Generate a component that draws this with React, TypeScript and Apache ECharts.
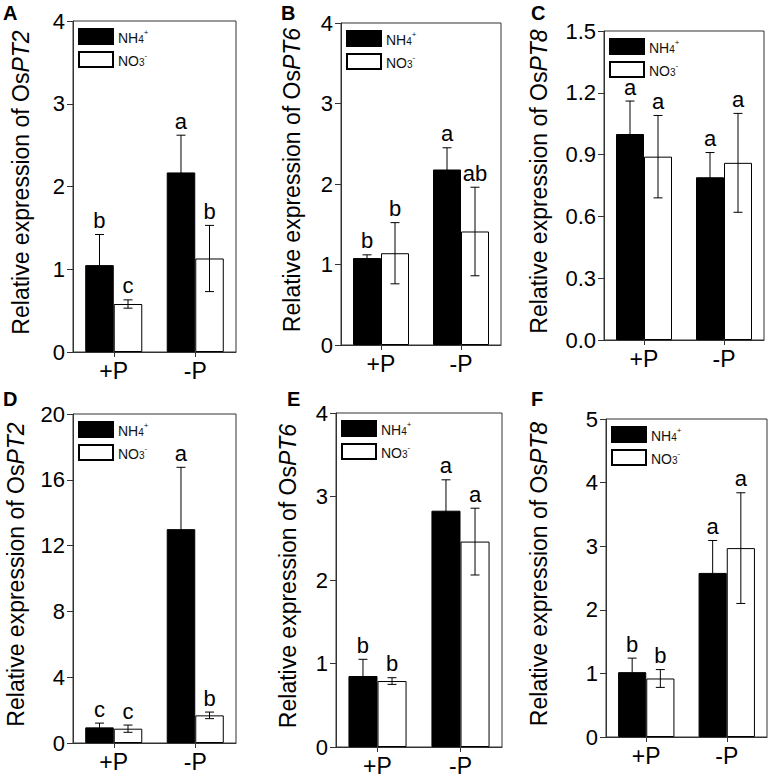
import React, { useEffect, useRef } from "react";
import * as echarts from "echarts";

const categories = ["+P", "-P"];
const panelIds = ["A", "B", "C", "D", "E", "F"];
const genes = ["PT2", "PT6", "PT8", "PT2", "PT6", "PT8"];
const yMax = [4, 4, 1.5, 20, 4, 5];
const yInterval = [1, 1, 0.3, 4, 1, 1];
const yDecimals = [0, 0, 1, 0, 0, 0];
const nh4Mean = [[1.05, 2.17], [1.08, 2.18], [1.0, 0.79], [0.95, 13.0], [0.85, 2.83], [1.02, 2.58]];
const nh4Err = [[0.37, 0.45], [0.04, 0.27], [0.16, 0.12], [0.26, 3.76], [0.2, 0.37], [0.22, 0.51]];
const no3Mean = [[0.58, 1.13], [1.14, 1.41], [0.89, 0.86], [0.87, 1.68], [0.79, 2.46], [0.92, 2.97]];
const no3Err = [[0.05, 0.4], [0.38, 0.55], [0.2, 0.24], [0.22, 0.2], [0.04, 0.4], [0.14, 0.87]];
const nh4Letters = [["b", "a"], ["b", "a"], ["a", "a"], ["c", "a"], ["b", "a"], ["b", "a"]];
const no3Letters = [["c", "b"], ["b", "ab"], ["a", "a"], ["c", "b"], ["b", "a"], ["b", "a"]];
const seriesNames = ["NH4+", "NO3-"];

// layout (pixels)
const gridBoxes = [
  { left: 73, top: 21, width: 163, height: 331 },
  { left: 341, top: 23, width: 160, height: 322 },
  { left: 604, top: 31, width: 160, height: 309 },
  { left: 73, top: 414, width: 163, height: 329 },
  { left: 336, top: 413, width: 166, height: 334 },
  { left: 606, top: 419, width: 161, height: 318 },
];
const nameGaps = [52, 49, 65, 57, 48, 67];
const letterPos = [
  [3, 3], [281, 3], [531, 3], [3, 389], [287, 389], [531, 389],
];

const FONT = "'Liberation Sans', Arial, Helvetica, sans-serif";
const AXIS_COLOR = "#333";

export default function App() {
  const ref = useRef<HTMLDivElement>(null);
  useEffect(() => {
    if (!ref.current) return;
    const chart = echarts.init(ref.current, undefined, { renderer: "svg" });

    const grid: any[] = [];
    const xAxis: any[] = [];
    const yAxis: any[] = [];
    const legend: any[] = [];
    const series: any[] = [];
    const graphic: any[] = [];

    panelIds.forEach((pid, i) => {
      const g = gridBoxes[i];
      grid.push({
        left: g.left,
        top: g.top,
        width: g.width,
        height: g.height,
        show: true,
        borderColor: AXIS_COLOR,
        borderWidth: 1,
        backgroundColor: "transparent",
      });
      xAxis.push({
        type: "category",
        gridIndex: i,
        data: categories,
        axisLine: { show: true, lineStyle: { color: AXIS_COLOR, width: 1 } },
        axisTick: { show: true, alignWithLabel: true, length: 5, lineStyle: { color: AXIS_COLOR } },
        axisLabel: { color: "#000", fontSize: 23, fontFamily: FONT, margin: 7 },
        splitLine: { show: false },
      });
      const dec = yDecimals[i];
      yAxis.push({
        type: "value",
        gridIndex: i,
        min: 0,
        max: yMax[i],
        interval: yInterval[i],
        axisLine: { show: true, lineStyle: { color: AXIS_COLOR, width: 1 } },
        axisTick: { show: true, length: 6, lineStyle: { color: AXIS_COLOR } },
        axisLabel: {
          color: "#000",
          fontSize: 22,
          fontFamily: FONT,
          margin: 8,
          formatter: (v: number) => v.toFixed(dec),
        },
        splitLine: { show: false },
        name: "Relative expression of Os{i|" + genes[i] + "}",
        nameLocation: "middle",
        nameGap: nameGaps[i],
        nameTextStyle: {
          color: "#000",
          fontSize: 23,
          fontFamily: FONT,
          verticalAlign: "middle",
          padding: [0, 0, 0, 8],
          rich: {
            i: { fontStyle: "italic", fontSize: 23, color: "#000", fontFamily: FONT },
          },
        },
      });
      legend.push({
        data: seriesNames,
        orient: "vertical",
        left: g.left + 5,
        top: g.top + 7,
        itemWidth: 34,
        itemHeight: 15,
        itemGap: 6,
        icon: "rect",
        padding: 0,
        selectedMode: false,
        formatter: (name: string) =>
          name === "NH4+" ? "{n|NH}{s|4}{p|+}" : "{n|NO}{s|3}{p|-}",
        textStyle: {
          color: "#000",
          fontFamily: FONT,
          fontSize: 14,
          rich: {
            n: { fontSize: 14, color: "#111", fontFamily: FONT, lineHeight: 16, verticalAlign: "bottom" },
            s: { fontSize: 10, color: "#111", fontFamily: FONT, verticalAlign: "bottom", lineHeight: 14 },
            p: { fontSize: 8, color: "#111", fontFamily: FONT, verticalAlign: "top", lineHeight: 16 },
          },
        },
      });
      series.push({
        name: seriesNames[0],
        type: "bar",
        xAxisIndex: i,
        yAxisIndex: i,
        data: nh4Mean[i],
        barGap: "0%",
        barCategoryGap: "30%",
        itemStyle: { color: "#000", borderColor: "#000", borderWidth: 1 },
      });
      series.push({
        name: seriesNames[1],
        type: "bar",
        xAxisIndex: i,
        yAxisIndex: i,
        data: no3Mean[i],
        barGap: "0%",
        barCategoryGap: "30%",
        itemStyle: { color: "#fff", borderColor: "#000", borderWidth: 1 },
      });
      const errData: number[][] = [];
      const labels: string[] = [];
      categories.forEach((_, c) => {
        errData.push([c, nh4Mean[i][c], nh4Err[i][c], -1]);
        labels.push(nh4Letters[i][c]);
        errData.push([c, no3Mean[i][c], no3Err[i][c], 1]);
        labels.push(no3Letters[i][c]);
      });
      series.push({
        type: "custom",
        xAxisIndex: i,
        yAxisIndex: i,
        z: 5,
        silent: true,
        data: errData,
        encode: { x: 0, y: 1 },
        renderItem: (params: any, api: any) => {
          const cat = api.value(0);
          const mean = api.value(1);
          const err = api.value(2);
          const side = api.value(3);
          const band = api.size([1, 0])[0];
          const c = api.coord([cat, mean]);
          const x = c[0] + side * band * 0.175;
          const top = api.coord([cat, mean + err])[1];
          const bot = api.coord([cat, mean - err])[1];
          const hw = 4.5;
          const ls = { stroke: "#000", lineWidth: 1 };
          return {
            type: "group",
            children: [
              { type: "line", shape: { x1: x, y1: top, x2: x, y2: bot }, style: ls },
              { type: "line", shape: { x1: x - hw, y1: top, x2: x + hw, y2: top }, style: ls },
              { type: "line", shape: { x1: x - hw, y1: bot, x2: x + hw, y2: bot }, style: ls },
              {
                type: "text",
                x: x,
                y: top - 3,
                style: {
                  text: labels[params.dataIndex],
                  fill: "#000",
                  font: "22px " + FONT,
                  align: "center",
                  verticalAlign: "bottom",
                },
              },
            ],
          };
        },
      });
      graphic.push({
        type: "text",
        left: letterPos[i][0],
        top: letterPos[i][1],
        style: {
          text: pid,
          fill: "#000",
          font: "bold 20px " + FONT,
        },
      });
    });

    chart.setOption({
      animation: false,
      backgroundColor: "#fff",
      grid,
      xAxis,
      yAxis,
      legend,
      series,
      graphic,
    });
    return () => chart.dispose();
  }, []);
  return (
    <div
      ref={ref}
      style={{ width: 771, height: 777, position: "absolute", left: 0, top: 0 }}
    />
  );
}
